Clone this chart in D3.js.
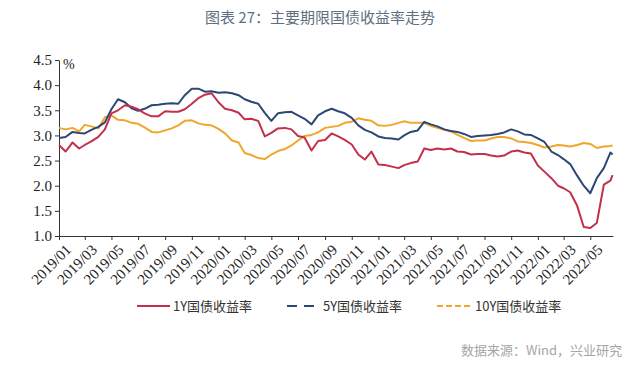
<!DOCTYPE html>
<html lang="zh">
<head>
  <meta charset="UTF-8">
  <title>主要期限国债收益率走势</title>
  <script src="https://d3js.org/d3.v7.min.js"></script>
  <style>
    * { margin: 0; padding: 0; box-sizing: border-box; }
    body { background: #fff; width: 640px; height: 370px; overflow: hidden; }
    .axis text { font-family: "Liberation Serif", "Times New Roman", serif; fill: #222; }
    .axis path, .axis line { stroke: #333; }
  </style>
</head>
<body>
  <div id="chart"></div>

  <script>
    // half-month sample dates
    const dates = [
      "2019-01-01","2019-01-16","2019-02-01","2019-02-16","2019-03-01","2019-03-16","2019-04-01","2019-04-16",
      "2019-05-01","2019-05-16","2019-06-01","2019-06-16","2019-07-01","2019-07-16","2019-08-01","2019-08-16",
      "2019-09-01","2019-09-16","2019-10-01","2019-10-16","2019-11-01","2019-11-16","2019-12-01","2019-12-16",
      "2020-01-01","2020-01-16","2020-02-01","2020-02-16","2020-03-01","2020-03-16","2020-04-01","2020-04-16",
      "2020-05-01","2020-05-16","2020-06-01","2020-06-16","2020-07-01","2020-07-16","2020-08-01","2020-08-16",
      "2020-09-01","2020-09-16","2020-10-01","2020-10-16","2020-11-01","2020-11-16","2020-12-01","2020-12-16",
      "2021-01-01","2021-01-16","2021-02-01","2021-02-16","2021-03-01","2021-03-16","2021-04-01","2021-04-16",
      "2021-05-01","2021-05-16","2021-06-01","2021-06-16","2021-07-01","2021-07-16","2021-08-01","2021-08-16",
      "2021-09-01","2021-09-16","2021-10-01","2021-10-16","2021-11-01","2021-11-16","2021-12-01","2021-12-16",
      "2022-01-01","2022-01-16","2022-02-01","2022-02-16","2022-03-01","2022-03-16","2022-04-01","2022-04-16",
      "2022-05-01","2022-05-16","2022-06-01","2022-06-16","2022-06-21"
    ];

    const y1Y = [
      2.81,2.68,2.86,2.74,2.81,2.88,2.97,3.12,3.44,3.50,3.60,3.57,3.52,3.44,3.38,3.38,3.48,3.47,3.47,3.52,3.63,3.74,3.81,3.84,
      3.66,3.53,3.50,3.45,3.32,3.33,3.29,2.98,3.05,3.14,3.15,3.12,2.99,2.96,2.70,2.89,2.91,3.04,2.98,2.91,2.82,2.62,2.52,2.68,
      2.42,2.41,2.38,2.35,2.41,2.45,2.48,2.74,2.71,2.74,2.72,2.74,2.68,2.67,2.62,2.63,2.63,2.60,2.58,2.60,2.68,2.70,2.66,2.64,
      2.40,2.28,2.15,2.00,1.95,1.87,1.60,1.18,1.16,1.26,2.02,2.10,2.21
    ];
    const y5Y = [
      2.95,2.97,3.07,3.05,3.04,3.11,3.17,3.26,3.52,3.72,3.66,3.54,3.49,3.53,3.60,3.61,3.63,3.64,3.63,3.80,3.93,3.93,3.87,3.88,
      3.85,3.86,3.84,3.80,3.72,3.67,3.63,3.45,3.29,3.44,3.46,3.47,3.40,3.33,3.22,3.40,3.48,3.53,3.48,3.44,3.35,3.20,3.11,3.06,
      2.98,2.95,2.94,2.92,3.00,3.07,3.10,3.27,3.22,3.18,3.12,3.09,3.07,3.03,2.97,2.99,3.00,3.01,3.03,3.06,3.12,3.08,3.02,3.01,
      2.94,2.87,2.68,2.61,2.53,2.43,2.20,2.00,1.85,2.15,2.35,2.66,2.62
    ];
    const y10Y = [
      3.15,3.12,3.15,3.08,3.21,3.18,3.14,3.36,3.40,3.31,3.30,3.25,3.23,3.16,3.07,3.06,3.10,3.14,3.20,3.29,3.30,3.24,3.21,3.20,
      3.13,3.04,2.90,2.86,2.65,2.61,2.55,2.53,2.62,2.69,2.73,2.80,2.90,2.99,3.01,3.06,3.15,3.17,3.19,3.25,3.27,3.34,3.31,3.29,
      3.20,3.19,3.21,3.25,3.28,3.25,3.25,3.25,3.19,3.15,3.11,3.08,3.01,2.95,2.89,2.90,2.90,2.94,2.97,2.97,2.94,2.88,2.87,2.85,
      2.81,2.76,2.78,2.81,2.80,2.78,2.81,2.85,2.83,2.75,2.78,2.79,2.80
    ];

    const seriesNames = ["1Y国债收益率", "5Y国债收益率", "10Y国债收益率"];
    const seriesColors = ["#c3304c", "#2d4774", "#f1a62b"];
    const yTicks = [1.0, 1.5, 2.0, 2.5, 3.0, 3.5, 4.0, 4.5];

    const W = 640, H = 370;
    const plot = {left: 59, right: 613, top: 60, bottom: 236};

    const svg = d3.select("#chart")
                  .append("svg")
                  .attr("width", W)
                  .attr("height", H);

    const parse = d3.utcParse("%Y-%m-%d");
    const x = d3.scaleUtc()
                .domain([parse("2019-01-01"), parse("2022-06-22")])
                .range([plot.left, plot.right]);
    const y = d3.scaleLinear()
                .domain([1, 4.5])
                .range([plot.bottom, plot.top]);

    // title
    svg.append("text")
       .attr("x", W / 2)
       .attr("y", 23)
       .attr("text-anchor", "middle")
       .style("font-family", "'Noto Sans CJK SC', sans-serif")
       .style("font-size", "15px")
       .style("fill", "#5f6f80")
       .text("图表 27：主要期限国债收益率走势");

    // y axis
    svg.append("g")
       .attr("class", "axis")
       .attr("transform", `translate(${plot.left},0)`)
       .call(d3.axisLeft(y)
               .tickValues(yTicks)
               .tickFormat(d3.format(".1f"))
               .tickSize(4)
               .tickPadding(3)
               .tickSizeOuter(0))
       .selectAll("text")
       .style("font-size", "15px");

    svg.append("text")
       .attr("x", plot.left + 4)
       .attr("y", plot.top + 9)
       .style("font-family", "'Liberation Serif', serif")
       .style("font-size", "14px")
       .style("fill", "#222")
       .text("%");

    // x axis
    const xAxis = svg.append("g")
       .attr("class", "axis")
       .attr("transform", `translate(0,${plot.bottom})`)
       .call(d3.axisBottom(x)
               .ticks(d3.utcMonth.every(2))
               .tickFormat(d3.utcFormat("%Y/%m"))
               .tickSize(4)
               .tickSizeOuter(0));

    xAxis.selectAll("text")
       .style("font-size", "15px")
       .attr("text-anchor", "end")
       .attr("dy", "0.35em")
       .attr("transform", "translate(4,6) rotate(-45)");

    // lines
    const rows = dates.map((d, i) => ({date: parse(d), v: [y1Y[i], y5Y[i], y10Y[i]]}));
    const order = [2, 1, 0];
    order.forEach(k => {
      svg.append("path")
         .datum(rows)
         .attr("fill", "none")
         .attr("stroke", seriesColors[k])
         .attr("stroke-width", 2)
         .attr("stroke-linejoin", "round")
         .attr("d", d3.line().x(d => x(d.date)).y(d => y(d.v[k])));
    });

    // legend
    const legend = [
      {x1: 137, x2: 170, tx: 173, dash: null},
      {x1: 287, x2: 314, tx: 323, dash: "10,7"},
      {x1: 437, x2: 472, tx: 475, dash: "6,3"}
    ];
    const ly = 306;
    legend.forEach((l, k) => {
      svg.append("line")
         .attr("x1", l.x1).attr("x2", l.x2)
         .attr("y1", ly).attr("y2", ly)
         .attr("stroke", seriesColors[k])
         .attr("stroke-width", 2.2)
         .attr("stroke-dasharray", l.dash);
      svg.append("text")
         .attr("x", l.tx)
         .attr("y", ly + 5)
         .style("font-family", "'Noto Sans CJK SC', sans-serif")
         .style("font-size", "13px")
         .style("fill", "#333")
         .text(seriesNames[k]);
    });

    // source
    svg.append("text")
       .attr("x", 622)
       .attr("y", 355)
       .attr("text-anchor", "end")
       .style("font-family", "'Noto Sans CJK SC', sans-serif")
       .style("font-size", "13px")
       .style("fill", "#a6a6a6")
       .text("数据来源：Wind，兴业研究");
  </script>
</body>
</html>
